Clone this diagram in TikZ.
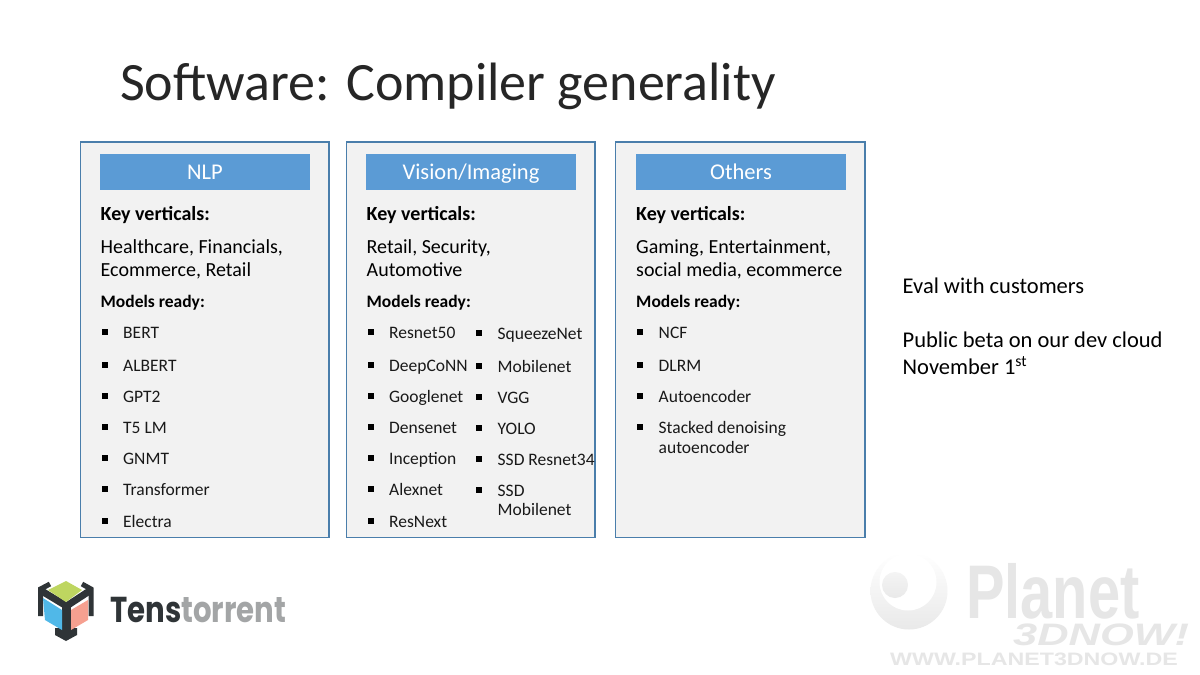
\documentclass[tikz,border=0pt]{standalone}
\usepackage{fontspec}
\usepackage{graphicx}
\setmainfont{Carlito}
\newfontfamily\lib{Liberation Sans}
\newfontfamily\pop{Poppins}
\definecolor{panelfill}{HTML}{F2F2F2}
\definecolor{panelline}{HTML}{4A7EAB}
\definecolor{headfill}{HTML}{5B9BD5}
\definecolor{wm}{HTML}{E9E9E9}
\definecolor{wmtext}{HTML}{E6E6E6}
\definecolor{logodark}{HTML}{2F3437}
\definecolor{logogrey}{HTML}{A3A5A6}
\definecolor{logogreen}{HTML}{BED660}
\definecolor{logoblue}{HTML}{50B8E8}
\definecolor{logopink}{HTML}{F6A090}
\tikzset{
  panel/.style={draw=panelline,fill=panelfill,line width=1.2pt},
  head/.style={fill=headfill,draw=none},
  headtext/.style={anchor=base,text=white,font=\fontsize{22.5}{26}\selectfont,inner sep=0pt},
  keyt/.style={anchor=base west,inner sep=0pt,font=\fontsize{20}{24}\selectfont\bfseries},
  bodyt/.style={anchor=base west,inner sep=0pt,font=\fontsize{20}{24}\selectfont},
  bigt/.style={anchor=base west,inner sep=0pt,font=\fontsize{22.5}{26}\selectfont},
  modt/.style={anchor=base west,inner sep=0pt,font=\fontsize{17.5}{20}\selectfont\bfseries},
  itemt/.style={anchor=base west,inner sep=0pt,font=\fontsize{17.5}{20}\selectfont,text=black!90},
  bul/.style={fill=black,draw=none},
}
\newcommand{\itm}[4]{% name, x, baseline, text
  \fill[bul] (#2-21.5,#3-9) rectangle (#2-15.5,#3-3);
  \node[itemt] (#1) at (#2,#3+0.7) {#4};}
\begin{document}
\begin{tikzpicture}[x=1pt,y=-1pt]
\useasboundingbox (0,0) rectangle (1200,675);
\fill[white] (0,0) rectangle (1200,675);
\node[anchor=base west,inner sep=0pt,text=black!85,font=\fontsize{54}{60}\selectfont] (title) at (120,100) {Software: Compiler generality};

% panels
\draw[panel] (80.5,142) rectangle (329,537.5);
\draw[panel] (346.8,142) rectangle (595,537.5);
\draw[panel] (615.8,142) rectangle (865,537.5);
\fill[head] (100,154) rectangle (310,190);
\fill[head] (366,154) rectangle (576,190);
\fill[head] (636,154) rectangle (846,190);
\node[headtext] (h1) at (205,179.5) {NLP};
\node[headtext] (h2) at (471,179.5) {Vision/Imaging};
\node[headtext] (h3) at (741,179.5) {Others};

% NLP
\node[keyt] (k1) at (100.5,220.3) {Key verticals:};
\node[bodyt] (b1a) at (100.5,253.5) {Healthcare, Financials,};
\node[bodyt] (b1b) at (100.5,276) {Ecommerce, Retail};
\node[modt] (m1) at (100.5,307.3) {Models ready:};
\itm{a1}{123}{338}{BERT}
\itm{a2}{123}{371}{ALBERT}
\itm{a3}{123}{402}{GPT2}
\itm{a4}{123}{433}{T5 LM}
\itm{a5}{123}{464}{GNMT}
\itm{a6}{123}{495}{Transformer}
\itm{a7}{123}{527}{Electra}

% Vision
\node[keyt] (k2) at (366.5,220.3) {Key verticals:};
\node[bodyt] (b2a) at (366.5,253.5) {Retail, Security,};
\node[bodyt] (b2b) at (366.5,276) {Automotive};
\node[modt] (m2) at (366.5,307.3) {Models ready:};
\itm{c1}{389}{338}{Resnet50}
\itm{c2}{389}{371}{DeepCoNN}
\itm{c3}{389}{402}{Googlenet}
\itm{c4}{389}{433}{Densenet}
\itm{c5}{389}{464}{Inception}
\itm{c6}{389}{495}{Alexnet}
\itm{c7}{389}{527}{ResNext}
\itm{d1}{497.5}{339}{SqueezeNet}
\itm{d2}{497.5}{372}{Mobilenet}
\itm{d3}{497.5}{403}{VGG}
\itm{d4}{497.5}{434}{YOLO}
\itm{d5}{497.5}{465}{SSD Resnet34}
\itm{d6}{497.5}{496}{SSD}
\node[itemt] (d6b) at (497.5,515.7) {Mobilenet};

% Others
\node[keyt] (k3) at (636,220.3) {Key verticals:};
\node[bodyt] (b3a) at (636,253.5) {Gaming, Entertainment,};
\node[bodyt] (b3b) at (636,276) {social media, ecommerce};
\node[modt] (m3) at (636,307.3) {Models ready:};
\itm{e1}{658.5}{338}{NCF}
\itm{e2}{658.5}{371}{DLRM}
\itm{e3}{658.5}{402}{Autoencoder}
\itm{e4}{658.5}{433}{Stacked denoising}
\node[itemt] (e4b) at (658.5,453.2) {autoencoder};

% right text
\node[bigt] (r1) at (902.5,293.5) {Eval with customers};
\node[bigt] (r2) at (902.5,347) {Public beta on our dev cloud};
\node[bigt] (r3) at (902.5,374) {November 1\textsuperscript{st}};

% Tenstorrent logo
\draw[logodark,line width=5pt] (40.5,616) -- (40.5,589) -- (50,584);
\draw[logodark,line width=5pt] (91,616) -- (91,589) -- (82,584);
\draw[logodark,line width=7pt] (40,590) -- (66.5,606) -- (91,590);
\draw[logodark,line width=9pt] (66.5,605) -- (66.5,638);
\fill[logodark] (55,628) -- (55,635) -- (66,641) -- (77,635) -- (77,628) -- cycle;
\fill[logogreen] (66,581) -- (82,590) -- (66,602) -- (48,590) -- cycle;
\fill[logoblue] (43,598) -- (62,610) -- (62,630) -- (45,620) -- cycle;
\fill[logopink] (71,610) -- (88,600) -- (88,620) -- (71,630) -- cycle;
\node[anchor=base west,inner sep=0pt,font=\pop\fontsize{36}{38}\selectfont] (tt) at (110,622) {\scalebox{0.81}[1]{\textcolor{logodark}{\bfseries Tens}\textcolor{logogrey}{\bfseries torrent}}};

% Planet3DNow watermark
\shade[top color=white,bottom color=wm] (909,591) circle (38.5);
\fill[white] (908,582) circle (28.5);
\shade[top color=white!50!wm,bottom color=wm] (895,585) circle (13);
\node[anchor=base west,inner sep=0pt,text=wmtext,font=\lib\fontsize{76}{80}\selectfont\bfseries] (pl) at (966,618) {\scalebox{0.76}[1]{Planet}};
\node[anchor=base west,inner sep=0pt,text=wmtext,font=\lib\fontsize{31}{34}\selectfont\bfseries\itshape] (dn) at (1013,645) {\scalebox{1.4}[1]{3DNOW!}};
\node[anchor=base west,inner sep=0pt,text=wmtext,font=\lib\fontsize{18}{20}\selectfont\bfseries] (url) at (890,665) {\scalebox{1.29}[1]{WWW.PLANET3DNOW.DE}};
\end{tikzpicture}
\end{document}
